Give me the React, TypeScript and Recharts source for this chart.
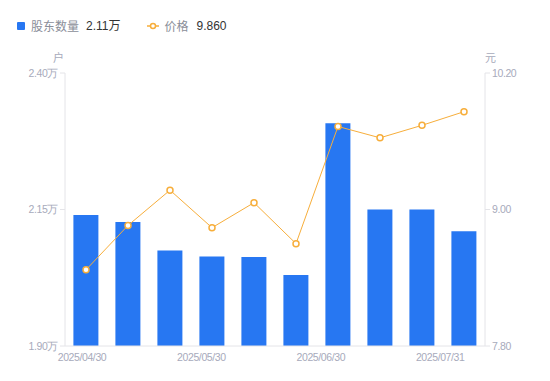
import React from 'react';
import { ComposedChart, Bar, Line, XAxis, YAxis } from 'recharts';

const dates = [
  '2025/04/30', '2025/05/09', '2025/05/20', '2025/05/30', '2025/06/10',
  '2025/06/20', '2025/06/30', '2025/07/10', '2025/07/18', '2025/07/31',
];
const holders = [2.14, 2.127, 2.075, 2.064, 2.063, 2.03, 2.308, 2.15, 2.15, 2.11];
const prices = [8.47, 8.86, 9.17, 8.84, 9.06, 8.7, 9.73, 9.63, 9.74, 9.86];
const leftTicks = [1.9, 2.15, 2.4];
const rightTicks = [7.8, 9.0, 10.2];

const data = dates.map((d, i) => ({ date: d, holders: holders[i], price: prices[i] }));

const BLUE = '#2777f2';
const ORANGE = '#f7ae3b';
const AXIS_TEXT = '#a7aabb';
const AXIS_LINE = '#e4e4e8';
const AXIS_FONT = '"Liberation Sans", Arial, sans-serif';
const tickStyle = { fontSize: 10.5, fill: AXIS_TEXT, fontFamily: AXIS_FONT, letterSpacing: -0.4 };

const XTick = (props: any) => {
  const { x, y, payload } = props;
  const i = dates.indexOf(payload.value);
  return (
    <text x={x - 4 - 2.2 * i} y={y} dy="0.71em" textAnchor="middle" {...tickStyle}>
      {payload.value}
    </text>
  );
};

const App = () => {
  return (
    <div style={{ position: 'absolute', left: 0, top: 0, width: 550, height: 381, fontFamily: '"Liberation Sans", "Noto Sans CJK SC", sans-serif' }}>
      <div style={{ position: 'absolute', left: 17, top: 18, display: 'flex', alignItems: 'center', fontSize: 12, lineHeight: '16px' }}>
        <span style={{ width: 8, height: 8, background: BLUE, borderRadius: 1, display: 'inline-block' }} />
        <span style={{ color: '#8a8e99', marginLeft: 6, fontFamily: '"Noto Sans CJK SC", sans-serif' }}>股东数量</span>
        <span style={{ color: '#333', marginLeft: 7 }}>2.11万</span>
        <svg width={12} height={8} style={{ marginLeft: 27 }}>
          <line x1={0} y1={4} x2={12} y2={4} stroke={ORANGE} strokeWidth={1.5} />
          <circle cx={6} cy={4} r={2.5} fill="#fff" stroke={ORANGE} strokeWidth={1.5} />
        </svg>
        <span style={{ color: '#8a8e99', marginLeft: 5, fontFamily: '"Noto Sans CJK SC", sans-serif' }}>价格</span>
        <span style={{ color: '#333', marginLeft: 8 }}>9.860</span>
      </div>
      <div style={{ position: 'absolute', left: 53, top: 49, fontSize: 11, color: AXIS_TEXT }}>户</div>
      <div style={{ position: 'absolute', left: 485, top: 49, fontSize: 11, color: AXIS_TEXT }}>元</div>
      <ComposedChart width={550} height={381} data={data} margin={{ top: 73, right: 0, bottom: 0, left: 0 }} barCategoryGap="20%">
        <XAxis
          dataKey="date"
          interval={2}
          height={35}
          tickLine={false}
          tickSize={6}
          axisLine={{ stroke: AXIS_LINE }}
          tick={<XTick />}
        />
        <YAxis
          yAxisId="left"
          width={65}
          domain={[1.9, 2.4]}
          ticks={leftTicks}
          tickFormatter={(v: number) => `${v.toFixed(2)}万`}
          tick={tickStyle}
          tickLine={{ stroke: AXIS_LINE }}
          axisLine={{ stroke: AXIS_LINE }}
          tickSize={5}
          tickMargin={2}
        />
        <YAxis
          yAxisId="right"
          orientation="right"
          width={65}
          domain={[7.8, 10.2]}
          ticks={rightTicks}
          tickFormatter={(v: number) => v.toFixed(2)}
          tick={tickStyle}
          tickLine={{ stroke: AXIS_LINE }}
          axisLine={{ stroke: AXIS_LINE }}
          tickSize={5}
          tickMargin={2}
        />
        <Bar yAxisId="left" dataKey="holders" fill={BLUE} isAnimationActive={false} />
        <Line
          yAxisId="right"
          dataKey="price"
          stroke={ORANGE}
          strokeWidth={1}
          dot={{ r: 3, fill: '#fff', stroke: ORANGE, strokeWidth: 1.5 }}
          isAnimationActive={false}
        />
      </ComposedChart>
    </div>
  );
};

export default App;
